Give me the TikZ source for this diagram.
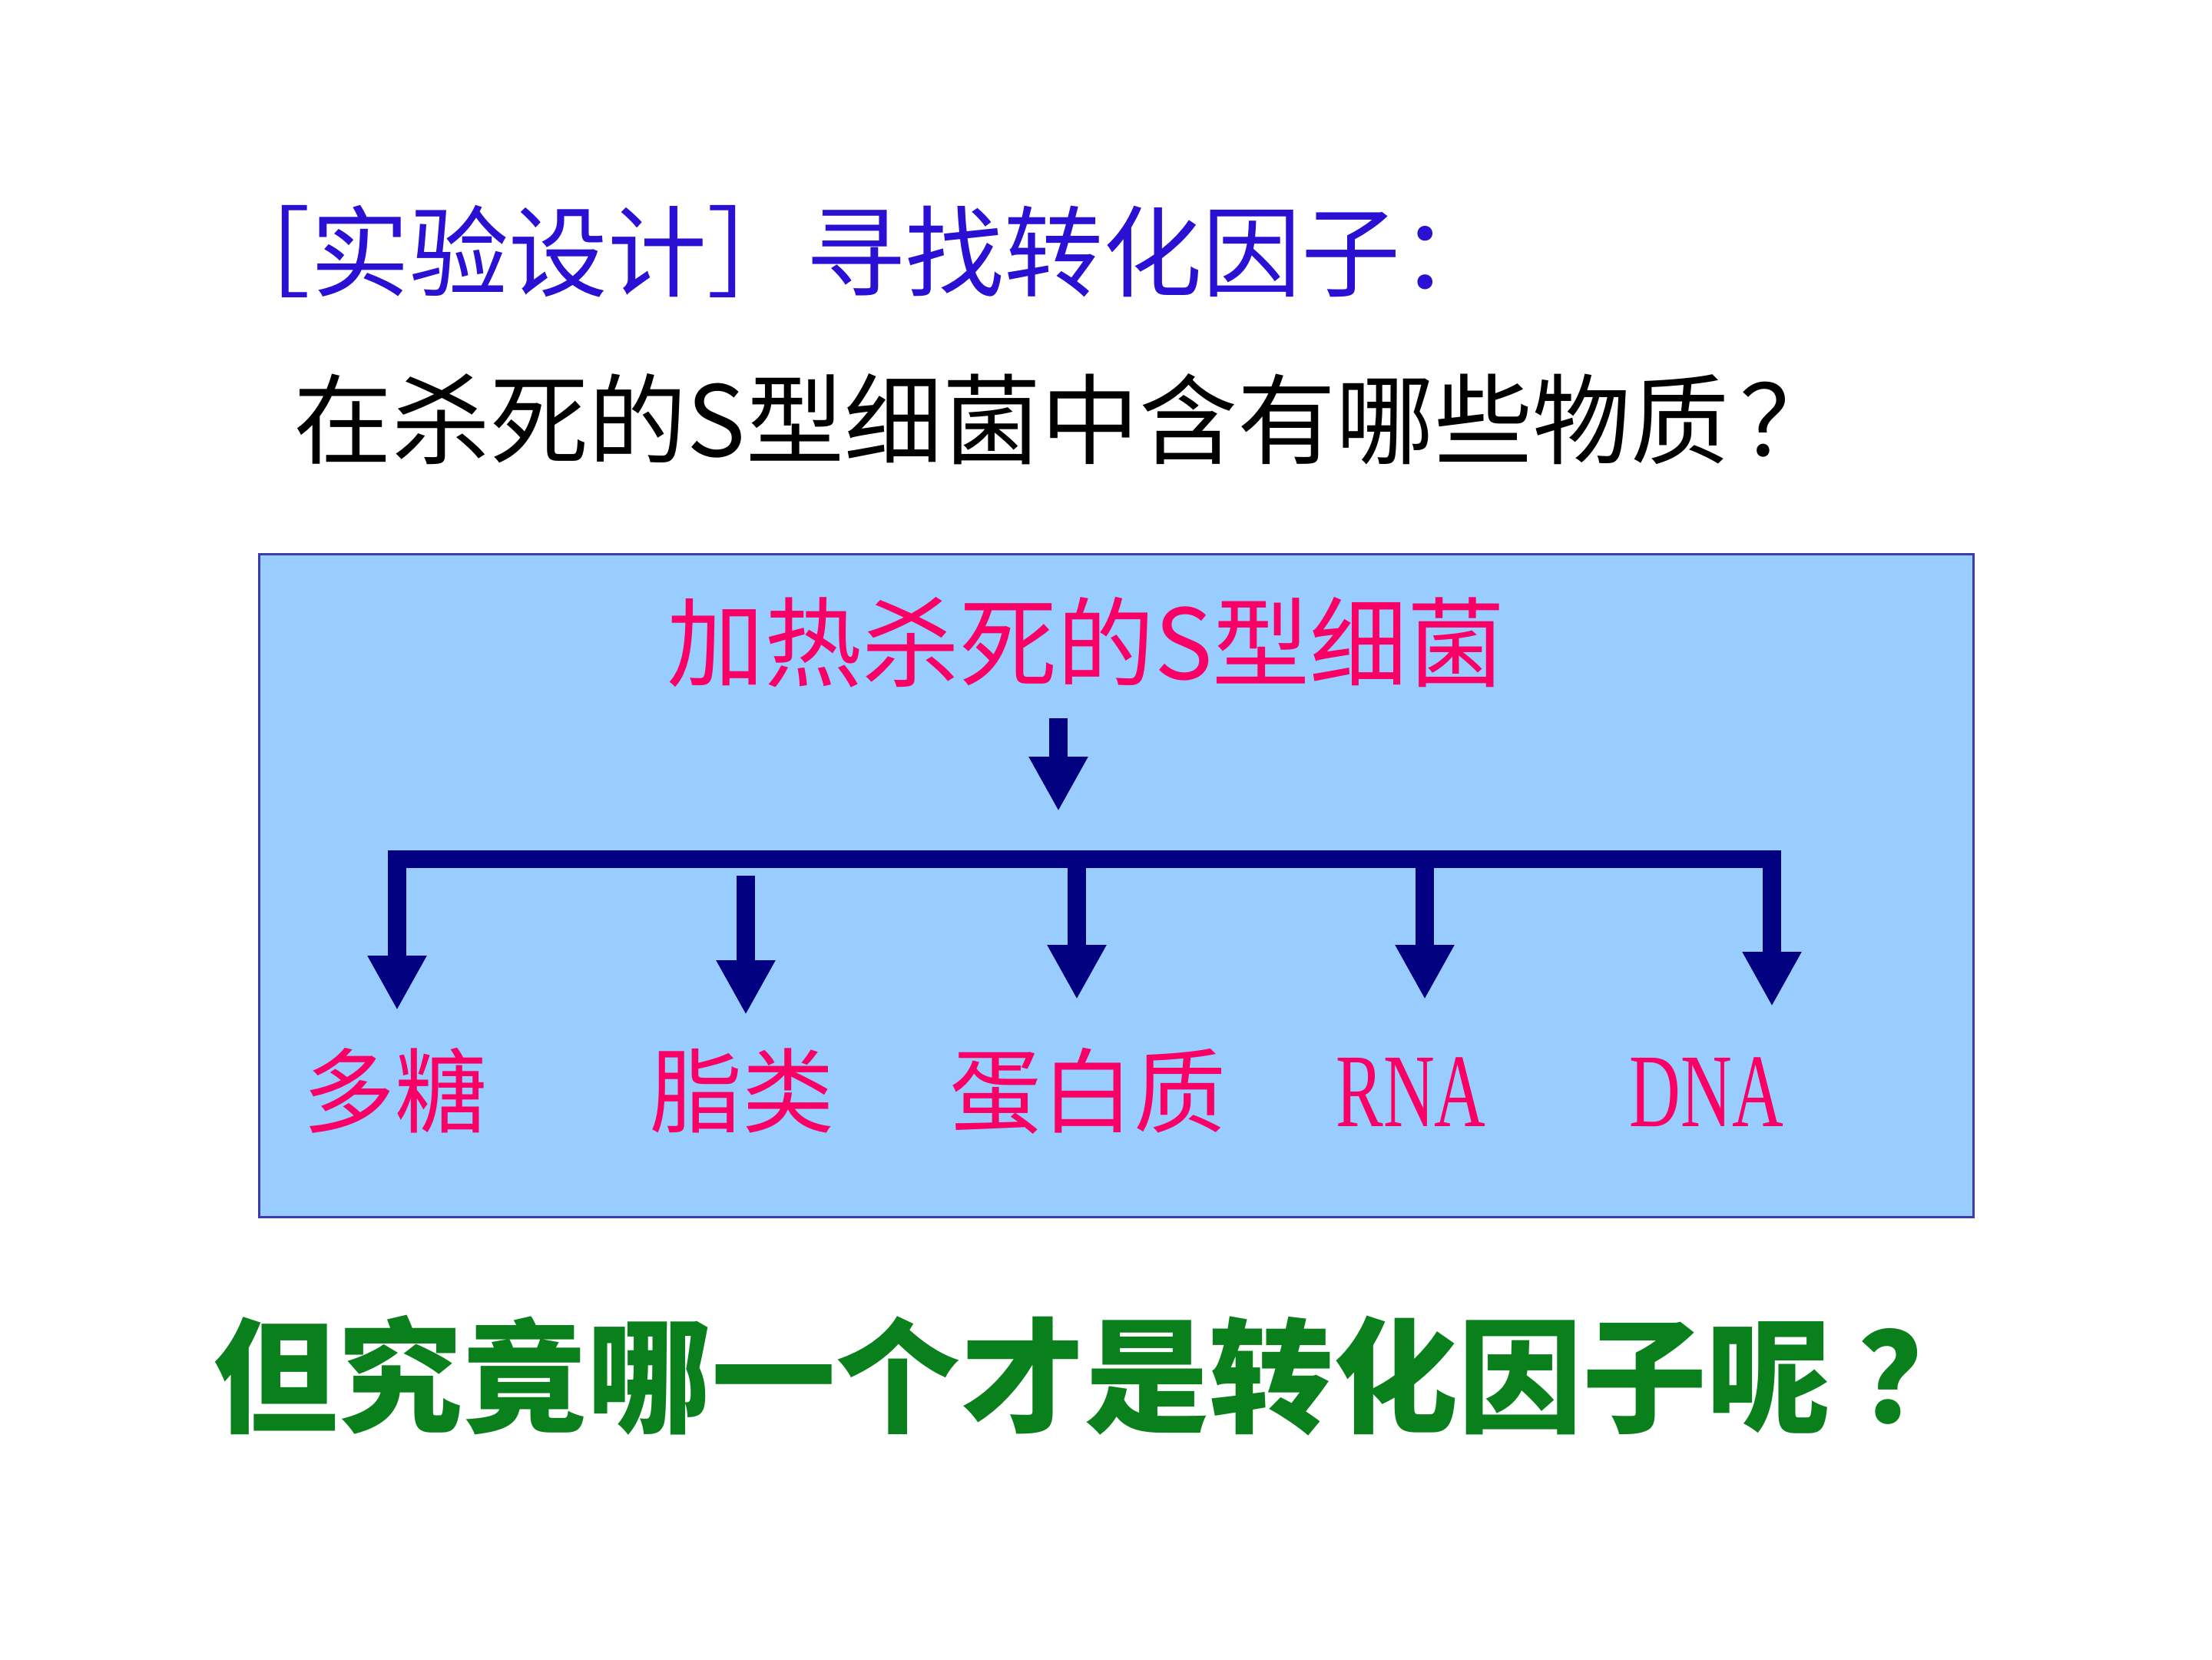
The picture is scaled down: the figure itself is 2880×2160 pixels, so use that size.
\documentclass[tikz,border=0pt]{standalone}
\usepackage{fontspec}
\usepackage{graphicx}
\setmainfont{Noto Sans CJK SC}
\newfontfamily\latinserif{Liberation Serif}
\usetikzlibrary{arrows.meta}
\definecolor{tblue}{RGB}{42,16,210}
\definecolor{tpink}{RGB}{250,0,102}
\definecolor{boxfill}{RGB}{153,204,255}
\definecolor{boxline}{RGB}{60,60,170}
\definecolor{navy}{RGB}{0,0,128}
\definecolor{tgreen}{RGB}{10,128,28}
\tikzset{
  txt/.style={inner sep=0pt, outer sep=0pt, anchor=center},
  flowarrow/.style={draw=navy, line width=24pt, line cap=butt,
    -{Triangle[length=71pt,width=72pt]}},
  bar/.style={draw=navy, line width=23pt, line cap=butt},
  label/.style={txt, text=tpink, font=\fontsize{120}{120}\selectfont},
}
\begin{document}
\begin{tikzpicture}[x=1pt,y=-1pt]
\useasboundingbox (0,0) rectangle (2880,2160);
% title
\node[txt, text=tblue, font=\fontsize{129}{129}\selectfont] (title) at (1114,327) {［实验设计］寻找转化因子：};
\node[txt, text=black, font=\fontsize{128}{128}\selectfont] (question) at (1388,546) {在杀死的S型细菌中含有哪些物质\hspace{14pt}？};
% box
\node[draw=boxline, line width=3pt, fill=boxfill, minimum width=2232pt, minimum height=863pt, inner sep=0pt, anchor=north west] (box) at (336,720) {};
\node[txt, text=tpink, font=\fontsize{127}{127}\selectfont] (heat) at (1414,836) {加热杀死的S型细菌};
% coordinates
\coordinate (topstart) at (1378,935);
\coordinate (toptip) at (1378,1056);
\coordinate (barL) at (505,1118);
\coordinate (barR) at (2319,1118);
\coordinate (s1) at (517,1130);
\coordinate (s2) at (971,1140);
\coordinate (s3) at (1402,1130);
\coordinate (s4) at (1855,1130);
\coordinate (s5) at (2307,1107);
\coordinate (t1) at (517,1315);
\coordinate (t2) at (971,1321);
\coordinate (t3) at (1402,1301);
\coordinate (t4) at (1855,1301);
\coordinate (t5) at (2307,1310);
% labels
\node[label] (l1) at (514,1420) {多糖};
\node[label] (l2) at (966,1420) {脂类};
\node[label] (l3) at (1416,1420) {蛋白质};
\node[label, font=\latinserif\fontsize{136}{136}\selectfont] (l4) at (1837,1422) {\scalebox{0.68}[1]{RNA}};
\node[label, font=\latinserif\fontsize{136}{136}\selectfont] (l5) at (2222,1422) {\scalebox{0.68}[1]{DNA}};
% arrows
\draw[flowarrow] (topstart) -- (toptip);
\draw[bar] (barL) -- (barR);
\draw[flowarrow] (s1) -- (t1);
\draw[flowarrow] (s2) -- (t2);
\draw[flowarrow] (s3) -- (t3);
\draw[flowarrow] (s4) -- (t4);
\draw[flowarrow] (s5) -- (t5);
% bottom question
\node[txt, text=tgreen, font=\bfseries\fontsize{162}{162}\selectfont] (final) at (1430,1791) {但究竟哪一个才是转化因子呢\hspace{36pt}？};
\end{tikzpicture}
\end{document}
